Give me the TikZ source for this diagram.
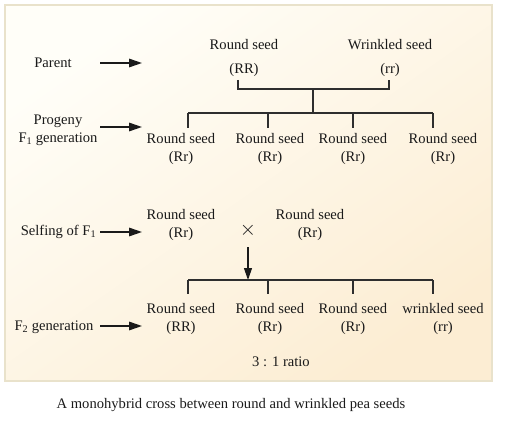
\documentclass[tikz,border=0pt]{standalone}
\usepackage{fontspec}
\setmainfont{Liberation Serif}
\usetikzlibrary{arrows.meta}
\definecolor{boxtop}{HTML}{FFFEF8}
\definecolor{boxbot}{HTML}{FCEDD3}
\definecolor{boxline}{HTML}{E9E2CB}
\definecolor{ink}{HTML}{1A1A1A}
\definecolor{barc}{HTML}{2E2E2E}
\begin{document}
\begin{tikzpicture}[x=1pt,y=-1pt,
  txt/.style={inner sep=0pt,align=center,text=ink,font=\fontsize{14.6}{18}\selectfont},
  arr/.style={line width=1.5pt,draw=ink,-{Triangle[length=13pt,width=8.5pt]}},
  darr/.style={line width=1.2pt,draw=ink,-{Triangle[length=12pt,width=8pt]}},
  bar/.style={line width=1.3pt,draw=barc}]
\useasboundingbox (0,0) rectangle (509,425);
\shade[top color=boxtop,bottom color=boxbot,shading angle=35] (5,5) rectangle (492,381);
\draw[boxline,line width=1.2pt] (5,5) rectangle (492,381);

% left labels and arrows
\node[txt] (parent) at (53,63) {Parent};
\coordinate (a1s) at (100,63); \coordinate (a1e) at (142,63);
\draw[arr] (a1s) -- (a1e);
\node[txt] (prog) at (58,130) {Progeny\\F\textsubscript{1} generation};
\coordinate (a2s) at (100,127); \coordinate (a2e) at (142,127);
\draw[arr] (a2s) -- (a2e);
\node[txt] (self) at (58.5,232) {Selfing of F\textsubscript{1}};
\coordinate (a3s) at (100,232); \coordinate (a3e) at (142,232);
\draw[arr] (a3s) -- (a3e);
\node[txt] (f2lab) at (54,327) {F\textsubscript{2} generation};
\coordinate (a4s) at (100,326); \coordinate (a4e) at (142,326);
\draw[arr] (a4s) -- (a4e);

% parents
\node[txt] (p1) at (244,45) {Round seed};
\node[txt] (p1g) at (244,70) {(RR)};
\node[txt] (p2) at (390,45) {Wrinkled seed};
\node[txt] (p2g) at (390,70) {(rr)};
\coordinate (b1) at (238,80); \coordinate (b2) at (389,80);
\coordinate (bm) at (313,89); \coordinate (bs) at (313,113);
\draw[bar] (b1) |- (bm) -| (b2);
\draw[bar] (bm) -- (bs);

% F1 bar
\coordinate (f1l) at (188,113); \coordinate (f1r) at (433,113);
\draw[bar] (f1l) -- (f1r);
\foreach \x [count=\i] in {188,268,353,433}{
  \coordinate (d\i t) at (\x,113); \coordinate (d\i b) at (\x,128);
  \draw[bar] (d\i t) -- (d\i b);
}
\node[txt] (f1a) at (181,149) {Round seed\\(Rr)};
\node[txt] (f1b) at (270,149) {Round seed\\(Rr)};
\node[txt] (f1c) at (353,149) {Round seed\\(Rr)};
\node[txt] (f1d) at (443,149) {Round seed\\(Rr)};

% selfing
\node[txt] (c1) at (181,224.5) {Round seed\\(Rr)};
\node[txt] (c2) at (310,224.5) {Round seed\\(Rr)};
\node[txt,font=\fontsize{22}{22}\selectfont] (x) at (248,230) {$\times$};
\coordinate (ds) at (248,247); \coordinate (de) at (248,280);
\draw[darr] (ds) -- (de);

% F2 bar
\coordinate (f2l) at (188,280); \coordinate (f2r) at (433,280);
\draw[bar] (f2l) -- (f2r);
\foreach \x [count=\i] in {188,268,353,433}{
  \coordinate (e\i t) at (\x,280); \coordinate (e\i b) at (\x,294);
  \draw[bar] (e\i t) -- (e\i b);
}
\node[txt] (f2a) at (181,319) {Round seed\\(RR)};
\node[txt] (f2b) at (270,319) {Round seed\\(Rr)};
\node[txt] (f2c) at (353,319) {Round seed\\(Rr)};
\node[txt] (f2d) at (443,319) {wrinkled seed\\(rr)};

\node[txt] (ratio) at (281,362) {3 : 1 ratio};
\node[txt] (cap) at (231,405) {A monohybrid cross between round and wrinkled pea seeds};
\end{tikzpicture}
\end{document}
